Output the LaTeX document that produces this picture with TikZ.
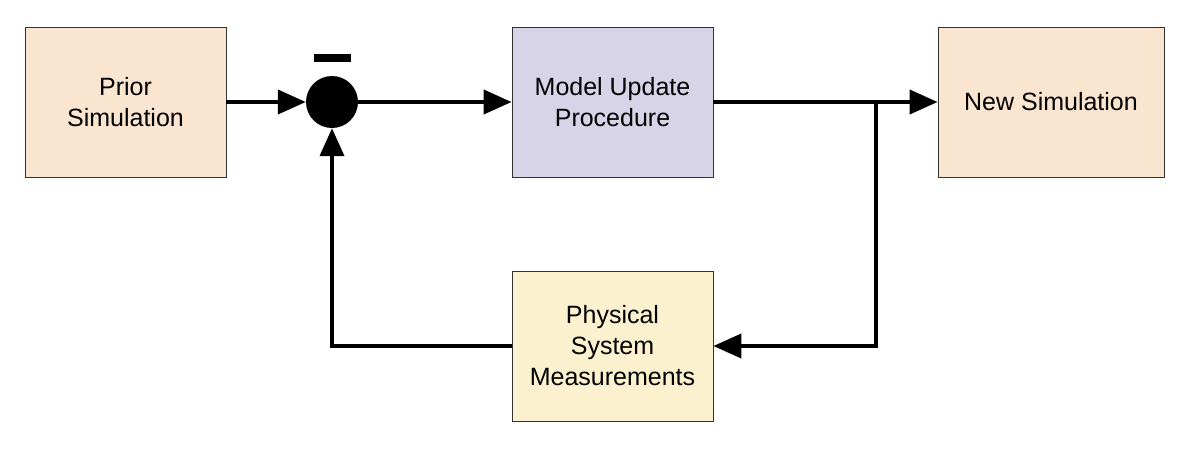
\documentclass[tikz,border=0pt]{standalone}
\usepackage{fontspec}
\setmainfont{Liberation Sans}
\usetikzlibrary{arrows.meta}
\definecolor{peach}{HTML}{F9E5D0}
\definecolor{lav}{HTML}{D8D4E8}
\definecolor{yel}{HTML}{FCF1CF}
\begin{document}
\begin{tikzpicture}[x=1pt,y=-1pt,
  blk/.style={draw=black!80,line width=0.8pt,minimum width=201pt,minimum height=150pt,inner sep=0pt,align=center,font=\fontsize{25}{31}\selectfont},
  conn/.style={line width=4pt,-{Triangle[length=28pt,width=24pt]}},
  plain/.style={line width=4pt}]
\useasboundingbox (0,0) rectangle (1200,466);
\node[blk,fill=peach] (prior) at (125.5,102) {Prior\\Simulation};
\node[blk,fill=lav] (model) at (612.5,102) {Model Update\\Procedure};
\node[blk,fill=peach,minimum width=226pt] (new) at (1051,102) {New Simulation};
\node[blk,fill=yel] (phys) at (612.5,346) {Physical\\System\\Measurements};
\node[circle,fill=black,minimum size=52pt,inner sep=0pt] (sum) at (332,102) {};
\node[fill=black,minimum width=37pt,minimum height=8pt,inner sep=0pt] (minus) at (332.5,58) {};
\coordinate (branch) at (876,102);
\coordinate (corner) at (876,346);
\coordinate (fbcorner) at (332,346);
\draw[conn] (prior.east) -- (sum.west);
\draw[conn] (sum.east) -- (model.west);
\draw[conn] (model.east) -- (new.west);
\draw[conn,line join=miter] (branch) -- (corner) -- (phys.east);
\draw[conn,line join=miter] (phys.west) -- (fbcorner) -- (sum.south);
\end{tikzpicture}
\end{document}
